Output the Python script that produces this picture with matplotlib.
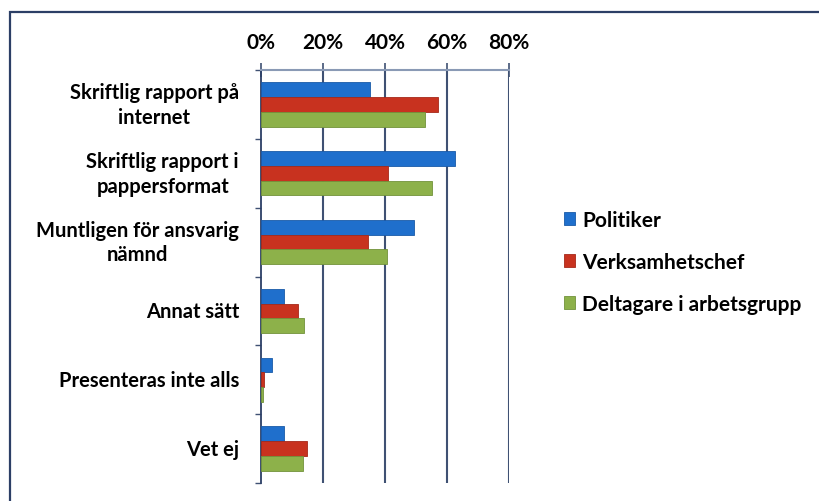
import matplotlib
matplotlib.use("Agg")
import matplotlib.pyplot as plt
from matplotlib.patches import Rectangle
from matplotlib.transforms import offset_copy
import numpy as np

categories = ["Skriftlig rapport på\ninternet", "Skriftlig rapport i\npappersformat",
              "Muntligen för ansvarig\nnämnd", "Annat sätt", "Presenteras inte alls", "Vet ej"]
series_names = ["Politiker", "Verksamhetschef", "Deltagare i arbetsgrupp"]
politiker = [35, 62.5, 49.5, 7.5, 3.5, 7.5]
verksamhetschef = [57, 41, 34.5, 12, 1, 14.8]
deltagare = [53, 55, 40.5, 14, 0.5, 13.7]
x_ticks = [0, 20, 40, 60, 80]
x_ticklabels = ["0%", "20%", "40%", "60%", "80%"]

colors = ["#1f6fcc", "#c8321f", "#8db14a"]
edges = ["#1a5aa8", "#a5281a", "#72923a"]

plt.rcParams['font.family'] = ['Lato', 'DejaVu Sans']

W, H = 819, 502
fig = plt.figure(figsize=(W / 100, H / 100), dpi=100)
fig.patch.set_facecolor("white")

# outer frame
fig.patches.append(Rectangle((10 / W, -0.1), 1.2, 1 - 13 / H + 0.1, transform=fig.transFigure,
                             fill=False, edgecolor="#2c3f66", linewidth=1.6))

ax = fig.add_axes([261 / W, 1 - 484 / H, (509 - 261) / W, (484 - 71) / H])

n = len(categories)
y = np.arange(n)
bh = 0.215
for k, vals in enumerate([politiker, verksamhetschef, deltagare]):
    ax.barh(y + (k - 1) * bh, vals, height=bh, color=colors[k], edgecolor=edges[k],
            linewidth=0.6, label=series_names[k], zorder=3)

ax.set_xlim(0, 80)
ax.set_ylim(n - 0.5, -0.5)

for xv in x_ticks[1:]:
    ax.axvline(xv, color="#3f5173", linewidth=1.5, zorder=1)

ax.xaxis.tick_top()
ax.set_xticks(x_ticks)
ax.set_xticklabels(x_ticklabels, fontsize=15, fontweight="bold")
ax.tick_params(axis="x", direction="inout", length=10, width=1.2, color="#3f5173", pad=8)

# category labels (drawn as text for centered multi-line alignment)
ax.set_yticks(y)
ax.set_yticklabels([])
ax.tick_params(axis="y", length=0)
lab_tr = offset_copy(ax.get_yaxis_transform(), fig=fig, x=-22 * 72 / 100, units="points")
for yi, lab in zip(y, categories):
    ax.text(0, yi, lab, transform=lab_tr, ha="right", va="center", multialignment="center",
            fontsize=14.5, fontweight="bold", linespacing=1.3)
ax.set_yticks(np.arange(n + 1) - 0.5, minor=True)
ax.tick_params(axis="y", which="minor", length=4, width=1, color="#3f5173", direction="out")

for s in ["right", "bottom"]:
    ax.spines[s].set_visible(False)
ax.spines["top"].set_color("#8a9ab5")
ax.spines["top"].set_linewidth(1.5)
ax.spines["left"].set_color("#2c3f66")
ax.spines["left"].set_linewidth(1.3)

handles, labels = ax.get_legend_handles_labels()
leg = fig.legend(handles, labels, loc="center left", bbox_to_anchor=(545 / W, 1 - 263 / H),
                 frameon=False, prop={"size": 15, "weight": "bold"},
                 handlelength=0.55, handleheight=0.55, handletextpad=0.35, labelspacing=1.05)

fig.savefig("out.png", dpi=100, facecolor="white")
